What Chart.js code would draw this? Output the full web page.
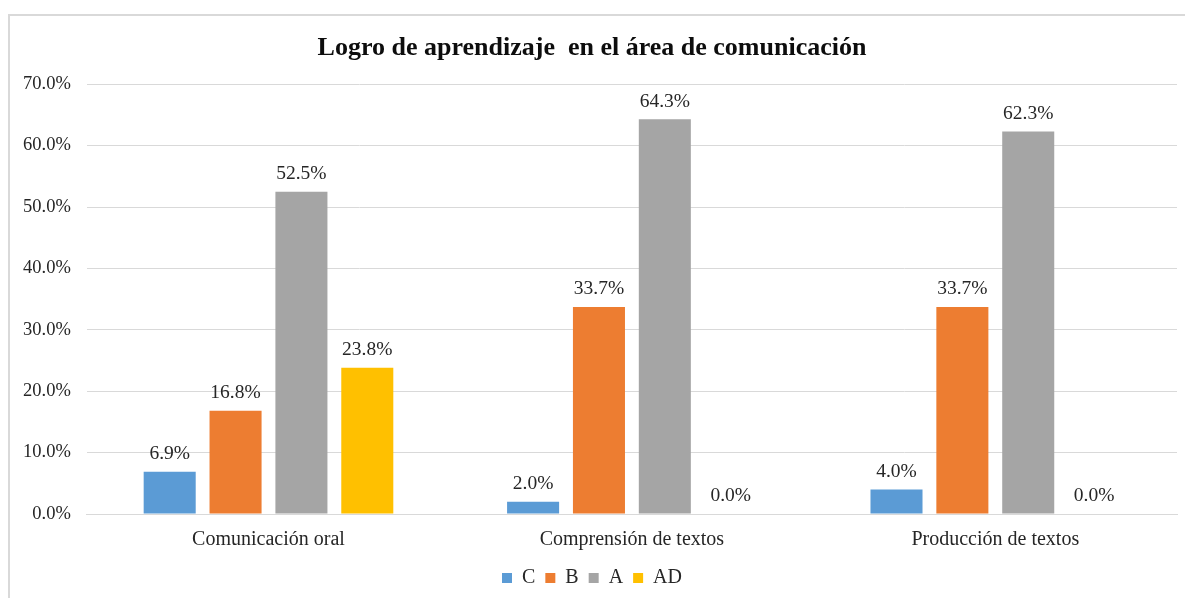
<!DOCTYPE html>
<html lang="es">
<head>
<meta charset="utf-8">
<title>Logro de aprendizaje en el área de comunicación</title>
<script src="https://cdn.jsdelivr.net/npm/chart.js@4.4.0/dist/chart.umd.min.js"></script>
<style>
    html, body { margin: 0; padding: 0; background: #fff; }
    #frame {
        position: absolute;
        left: 8px; top: 14px;
        width: 1200px; height: 600px;
        border: 2px solid #d9d9d9;
        box-sizing: border-box;
    }
    #wrap { position: absolute; left: 0; top: 0; width: 1185px; height: 598px; }
</style>
</head>
<body>
<div id="frame"></div>
<div id="wrap"><canvas id="chart-logro"></canvas></div>
<script>
// Datos
const categorias = ['Comunicación oral', 'Comprensión de textos', 'Producción de textos'];
const nivelC  = [6.9, 2.0, 4.0];
const nivelB  = [16.8, 33.7, 33.7];
const nivelA  = [52.5, 64.3, 62.3];
const nivelAD = [23.8, 0.0, 0.0];
const ticksY  = ['0.0%', '10.0%', '20.0%', '30.0%', '40.0%', '50.0%', '60.0%', '70.0%'];

const fuente = "'Liberation Serif', 'Times New Roman', serif";

// Etiquetas de valor encima de cada barra
const etiquetasPlugin = {
    id: 'etiquetas',
    afterDatasetsDraw(chart) {
        const ctx = chart.ctx;
        ctx.save();
        ctx.font = '19.5px ' + fuente;
        ctx.fillStyle = '#262626';
        ctx.textAlign = 'center';
        ctx.textBaseline = 'bottom';
        chart.data.datasets.forEach((ds, i) => {
            chart.getDatasetMeta(i).data.forEach((bar, j) => {
                ctx.fillText(ds.data[j].toFixed(1) + '%', bar.x, bar.y - 8);
            });
        });
        ctx.restore();
    }
};

const serie = (label, data, color) => ({
    label: label,
    data: data,
    backgroundColor: color,
    borderWidth: 0,
    barPercentage: 0.79,
    categoryPercentage: 0.725
});

new Chart(document.getElementById('chart-logro'), {
    type: 'bar',
    data: {
        labels: categorias,
        datasets: [
            serie('C', nivelC, '#5b9bd5'),
            serie('B', nivelB, '#ed7d31'),
            serie('A', nivelA, '#a5a5a5'),
            serie('AD', nivelAD, '#ffc000')
        ]
    },
    options: {
        responsive: true,
        maintainAspectRatio: false,
        animation: false,
        layout: { padding: { left: 7, right: 8, top: 8, bottom: 0 } },
        plugins: {
            title: {
                display: true,
                text: 'Logro de aprendizaje  en el área de comunicación',
                color: '#0d0d0d',
                font: { family: fuente, size: 26, weight: 'bold' },
                padding: { top: 25, bottom: 20 }
            },
            legend: {
                position: 'bottom',
                labels: {
                    color: '#262626',
                    usePointStyle: true,
                    pointStyle: 'rect',
                    boxWidth: 10,
                    boxHeight: 10,
                    padding: 10,
                    font: { family: fuente, size: 20 }
                }
            },
            tooltip: { enabled: false }
        },
        scales: {
            x: {
                grid: { display: false },
                border: { color: '#d9d9d9', width: 1 },
                ticks: {
                    color: '#262626',
                    padding: 6,
                    font: { family: fuente, size: 20 }
                }
            },
            y: {
                min: 0,
                max: 70,
                grid: { color: '#d9d9d9', lineWidth: 1, drawTicks: false },
                border: { display: false },
                ticks: {
                    stepSize: 10,
                    color: '#262626',
                    padding: 16,
                    font: { family: fuente, size: 18.5 },
                    callback: (v, i) => ticksY[i]
                }
            }
        }
    },
    plugins: [etiquetasPlugin]
});
</script>
</body>
</html>
